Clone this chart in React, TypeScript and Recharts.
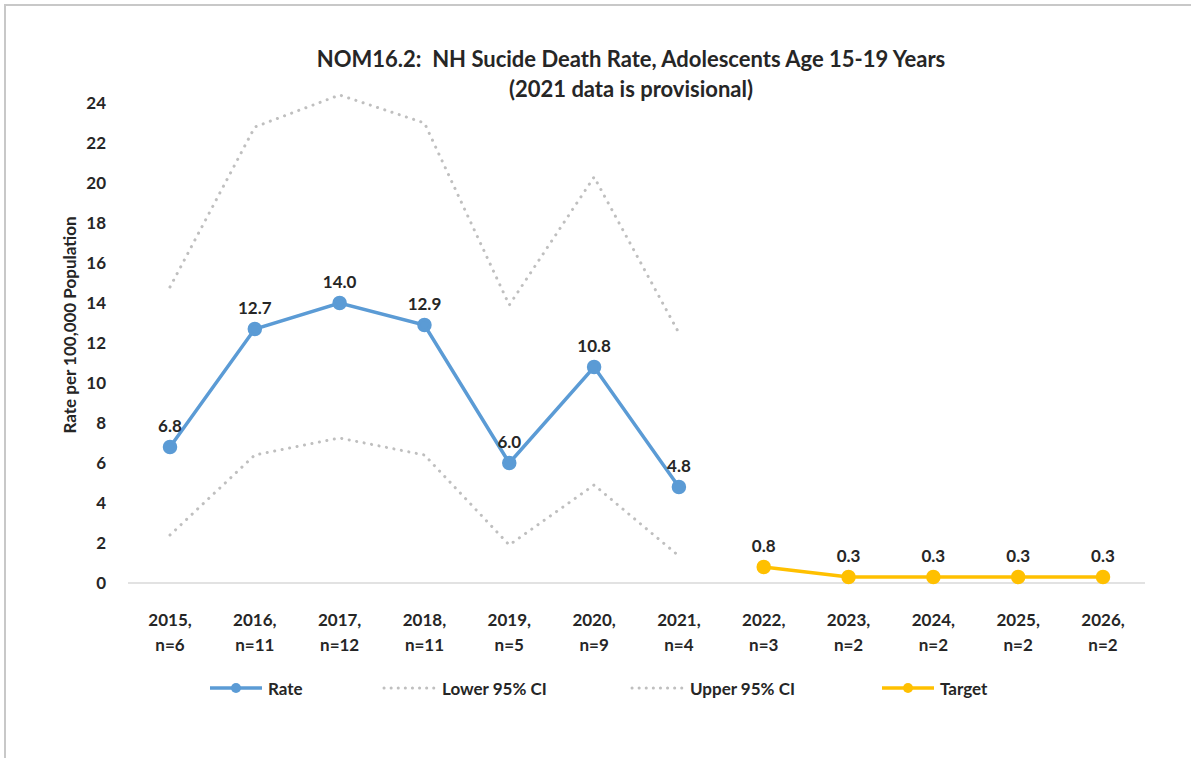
import { LineChart, Line, XAxis, YAxis, LabelList } from "recharts"

const years = ["2015", "2016", "2017", "2018", "2019", "2020", "2021", "2022", "2023", "2024", "2025", "2026"]
const counts = ["n=6", "n=11", "n=12", "n=11", "n=5", "n=9", "n=4", "n=3", "n=2", "n=2", "n=2", "n=2"]
const rate = [6.8, 12.7, 14.0, 12.9, 6.0, 10.8, 4.8, null, null, null, null, null]
const lowerCI = [2.4, 6.4, 7.25, 6.4, 1.9, 4.9, 1.35, null, null, null, null, null]
const upperCI = [14.8, 22.8, 24.4, 23.0, 13.9, 20.3, 12.5, null, null, null, null, null]
const target = [null, null, null, null, null, null, null, 0.8, 0.3, 0.3, 0.3, 0.3]
const yTicks = [0, 2, 4, 6, 8, 10, 12, 14, 16, 18, 20, 22, 24]

const FONT = "Lato, 'Open Sans', sans-serif"
const BLUE = "#5B9BD5"
const GOLD = "#FFC000"
const GRAY = "#BFBFBF"
const TEXT = "#262626"

const data = years.map((y, i) => ({
  label: `${y},|${counts[i]}`,
  rate: rate[i],
  lower: lowerCI[i],
  upper: upperCI[i],
  target: target[i],
}))

function XTick(props: any) {
  const { x, y, payload } = props
  const [a, b] = String(payload.value).split("|")
  return (
    <g transform={`translate(${x},${y})`}>
      <text textAnchor="middle" fontFamily={FONT} fontWeight={700} fontSize={17} fill={TEXT}>
        <tspan x={0} y={35}>{a}</tspan>
        <tspan x={0} y={60}>{b}</tspan>
      </text>
    </g>
  )
}

function LegendItem({ left, label, color, dotted, dot }: any) {
  return (
    <div style={{ position: "absolute", left, top: 677, height: 22, display: "flex", alignItems: "center" }}>
      <svg width={56} height={22}>
        <line
          x1={2}
          x2={54}
          y1={11}
          y2={11}
          stroke={color}
          strokeWidth={dotted ? 3 : 3.5}
          strokeDasharray={dotted ? "0.1 7" : undefined}
          strokeLinecap={dotted ? "round" : "butt"}
        />
        {dot && <circle cx={28} cy={11} r={5} fill={color} />}
      </svg>
      <span style={{ fontFamily: FONT, fontWeight: 700, fontSize: 17, color: TEXT, marginLeft: 4 }}>{label}</span>
    </div>
  )
}

const labelFmt = (v: any) => (v == null ? "" : Number(v).toFixed(1))
const labelStyle = { fontFamily: FONT, fontWeight: 700, fontSize: 17, fill: TEXT }

export default function App() {
  return (
    <div
      style={{
        position: "absolute",
        left: 0,
        top: 0,
        width: 1191,
        height: 758,
        background: "#fff",
        overflow: "hidden",
      }}
    >
      {/* outer frame, right and bottom edges fall outside the picture */}
      <div
        style={{
          position: "absolute",
          left: 4,
          top: 4,
          width: 1220,
          height: 780,
          borderTop: "2px solid #c8c8c8",
          borderLeft: "2px solid #c8c8c8",
        }}
      />
      <div
        style={{
          position: "absolute",
          left: 0,
          width: 1262,
          top: 44,
          textAlign: "center",
          fontFamily: FONT,
          fontWeight: 700,
          fontSize: 22,
          lineHeight: "30px",
          color: TEXT,
        }}
      >
        <div>NOM16.2:&nbsp; NH Sucide Death Rate, Adolescents Age 15-19 Years</div>
        <div>(2021 data is provisional)</div>
      </div>
      <div style={{ position: "absolute", left: 0, top: 0 }}>
        <LineChart width={1191} height={758} data={data} margin={{ top: 83, right: 46, bottom: 115, left: 0 }}>
          <XAxis
            dataKey="label"
            interval={0}
            height={60}
            padding={{ left: 42, right: 42 }}
            tickLine={false}
            axisLine={{ stroke: "#D9D9D9", strokeWidth: 1.5 }}
            tick={<XTick />}
          />
          <YAxis
            width={128}
            domain={[0, 25]}
            ticks={yTicks}
            interval={0}
            axisLine={false}
            tickLine={false}
            tickMargin={16}
            tick={{ fontFamily: FONT, fontWeight: 700, fontSize: 17, fill: TEXT }}
            label={() => (
              <text
                x={72}
                y={325}
                transform="rotate(-90 72 325)"
                textAnchor="middle"
                dominantBaseline="middle"
                fontFamily={FONT}
                fontWeight={700}
                fontSize={17}
                fill={TEXT}
              >
                Rate per 100,000 Population
              </text>
            )}
          />
          <Line
            dataKey="lower"
            stroke={GRAY}
            strokeWidth={3}
            strokeDasharray="0.1 7.5"
            strokeLinecap="round"
            dot={false}
            isAnimationActive={false}
          />
          <Line
            dataKey="upper"
            stroke={GRAY}
            strokeWidth={3}
            strokeDasharray="0.1 7.5"
            strokeLinecap="round"
            dot={false}
            isAnimationActive={false}
          />
          <Line
            dataKey="rate"
            stroke={BLUE}
            strokeWidth={3.5}
            dot={{ r: 5.5, fill: BLUE, stroke: BLUE }}
            isAnimationActive={false}
          >
            <LabelList dataKey="rate" position="top" offset={15} formatter={labelFmt} style={labelStyle} />
          </Line>
          <Line
            dataKey="target"
            stroke={GOLD}
            strokeWidth={3.5}
            dot={{ r: 5.5, fill: GOLD, stroke: GOLD }}
            isAnimationActive={false}
          >
            <LabelList dataKey="target" position="top" offset={15} formatter={labelFmt} style={labelStyle} />
          </Line>
        </LineChart>
      </div>
      <LegendItem left={208} label="Rate" color={BLUE} dot />
      <LegendItem left={382} label="Lower 95% CI" color={GRAY} dotted />
      <LegendItem left={630} label="Upper 95% CI" color={GRAY} dotted />
      <LegendItem left={880} label="Target" color={GOLD} dot />
    </div>
  )
}
